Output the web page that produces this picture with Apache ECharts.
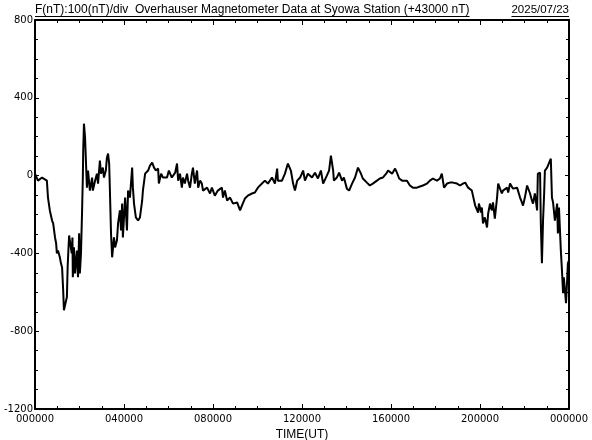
<!DOCTYPE html>
<html>
<head>
<meta charset="utf-8">
<script src="https://cdn.jsdelivr.net/npm/echarts@6/dist/echarts.min.js"></script>
<style>html,body{margin:0;padding:0;background:#fff}#c{width:592px;height:440px}</style>
</head>
<body>
<div id="c"></div>
<script>
// time in minutes (UT) from 00:00
const times = [
0,8,19,24,32,35,40,46,49,54,57,59,62,67,70,73,76,78,84,86,88,90,92,97,99,101,102,105,108,113,116,119,121,124,127,129,130,132,135,138,140,143,148,154,156,162,167,170,175,178,183,186,191,194,197,200,202,205,208,213,216,221,224,229,232,235,237,243,248,251,256,262,264,267,272,278,283,289,291,297,305,310,316,321,326,332,334,340,345,
356,361,369,378,383,386,391,396,399,404,410,413,418,423,426,431,437,440,445,450,453,464,472,477,480,485,493,504,507,512,518,526,534,545,553,558,566,574,585,593,601,612,620,628,639,647,653,655,666,674,682,690,696,701,707,715,
723,728,736,747,755,763,771,777,787,793,798,804,806,814,820,828,833,841,847,855,863,871,879,884,895,903,911,922,930,938,947,952,963,971,976,982,990,995,1003,1011,1019,1030,1038,1046,1057,1065,1073,1084,1092,
1097,1103,1111,1119,1127,1138,1146,1154,1160,1168,1178,1181,1187,1192,1195,1197,1203,1205,1208,1213,1219,1222,1227,1232,1235,1240,1246,1249,1254,1259,1262,1273,1276,1281,1289,1300,1308,1313,1316,1321,1327,1335,1340,1343,1348,1354,1356,1362,1364,1367,1370,1373,1375,1381,1386,1391,1394,1397,1402,1408,1410,1413,1418,1421,1424,1426,1432,1435,1437,1440
];
// F (nT) minus 43000
const values = [
10,-26,-10,0,-26,-113,-179,-231,-246,-318,-349,-400,-385,-420,-451,-472,-590,-692,-641,-626,-472,-385,-308,-318,-400,-318,-523,-369,-503,-385,-523,-297,-503,-400,-179,-10,128,267,195,41,-62,26,-77,-10,-77,-26,10,-41,77,10,41,-10,26,92,113,62,-77,-297,-420,-318,-369,-333,-246,-179,-282,-144,-318,-113,-282,-77,-113,41,-62,-144,-215,-231,-215,-128,-77,10,26,51,67,41,26,36,-41,10,-10,
-10,26,-10,15,62,-26,10,-62,-10,-41,10,-26,-62,10,41,-41,26,-62,-26,-41,-77,-62,-92,-62,-77,-103,-77,-62,-113,-77,-128,-113,-144,-138,-179,-154,-118,-103,-92,-87,-62,-41,-26,-41,-10,-41,36,-26,-26,10,62,26,-41,-77,-26,-10,
26,-26,10,-10,15,-15,26,-41,0,26,103,26,-26,-10,15,-26,-10,-67,-77,-41,-10,41,10,-15,-36,-51,-41,-26,-15,-10,10,26,10,36,15,-15,-26,-36,-26,-51,-62,-62,-56,-51,-41,-26,-15,-26,-15,
10,-62,-41,-36,-36,-41,-51,-41,-36,-62,-77,-103,-154,-164,-190,-144,-190,-164,-246,-215,-267,-195,-144,-179,-138,-221,-113,-41,-67,-92,-77,-62,-87,-41,-67,-62,-113,-138,-154,-113,-51,-92,-128,-144,-92,-179,10,15,-246,-451,-231,-92,26,41,51,87,-113,-138,-231,-144,-297,-164,-385,-487,-605,-523,-656,-538,-451,-436
];
const yTicks = [800, 400, 0, -400, -800, -1200];
const xTickLabels = ['000000','040000','080000','120000','160000','200000','000000'];
const titleText = 'F(nT):100(nT)/div  Overhauser Magnetometer Data at Syowa Station (+43000 nT)';
const dateText = '2025/07/23';

const seriesData = times.map((t, i) => [t, values[i]]);

const TFONT = '12px "Liberation Sans"';
const DFONT = '11.5px "Liberation Sans"';
const meas = document.createElement('canvas').getContext('2d');
meas.font = TFONT;
const wTitle = meas.measureText(titleText).width;
meas.font = DFONT;
const wDate = meas.measureText(dateText).width;

const GL = 35, GR = 23, GT = 20, GB = 31;
const chart = echarts.init(document.getElementById('c'), null, {renderer: 'canvas'});
const axisLine = {show: true, onZero: false, lineStyle: {color: '#000', width: 2}};
const lblFont = {color: '#000', fontFamily: 'DejaVu Sans', fontSize: 10};
const xCommon = {
  type: 'value', min: 0, max: 1440, interval: 240,
  axisLine: axisLine,
  axisTick: {show: true, inside: true, length: 5, lineStyle: {color: '#000', width: 1}},
  minorTick: {show: true, splitNumber: 4, length: 3, lineStyle: {color: '#000', width: 1}},
  splitLine: {show: false}
};
const yCommon = {
  type: 'value', min: -1200, max: 800, interval: 400,
  axisLine: axisLine,
  axisTick: {show: true, inside: true, length: 4, lineStyle: {color: '#000', width: 1}},
  minorTick: {show: true, splitNumber: 4, length: 3, lineStyle: {color: '#000', width: 1}},
  splitLine: {show: false}
};
chart.setOption({
  backgroundColor: '#fff',
  animation: false,
  grid: {left: GL, right: GR, top: GT, bottom: GB, containLabel: false, outerBoundsMode: 'none'},
  xAxis: [
    Object.assign({}, xCommon, {
      position: 'bottom',
      name: 'TIME(UT)', nameLocation: 'middle', nameGap: 19,
      nameTextStyle: {color: '#000', fontFamily: 'Liberation Sans', fontSize: 12},
      axisLabel: Object.assign({show: true, margin: 5, showMinLabel: true, showMaxLabel: true,
        formatter: v => xTickLabels[Math.round(v / 240)]}, lblFont)
    }),
    Object.assign({}, xCommon, {position: 'top', axisLabel: {show: false}})
  ],
  yAxis: [
    Object.assign({}, yCommon, {
      position: 'left',
      axisLabel: Object.assign({show: true, margin: 2, showMinLabel: true, showMaxLabel: true,
        formatter: v => String(yTicks[yTicks.indexOf(v)])}, lblFont)
    }),
    Object.assign({}, yCommon, {position: 'right', axisLabel: {show: false}})
  ],
  series: [{
    type: 'line', xAxisIndex: 0, yAxisIndex: 0,
    data: seriesData, showSymbol: false, symbol: 'none',
    lineStyle: {color: '#000', width: 2}, silent: true
  }],
  graphic: [
    {type: 'text', x: 35, y: 4, style: {text: titleText, font: TFONT, fill: '#000'}},
    {type: 'line', shape: {x1: 35, y1: 16.5, x2: 35 + wTitle, y2: 16.5}, style: {stroke: '#000', lineWidth: 1}},
    {type: 'text', x: 569 - wDate, y: 4, style: {text: dateText, font: DFONT, fill: '#000'}},
    {type: 'line', shape: {x1: 569 - wDate, y1: 16.5, x2: 569, y2: 16.5}, style: {stroke: '#000', lineWidth: 1}}
  ]
});
</script>
</body>
</html>
